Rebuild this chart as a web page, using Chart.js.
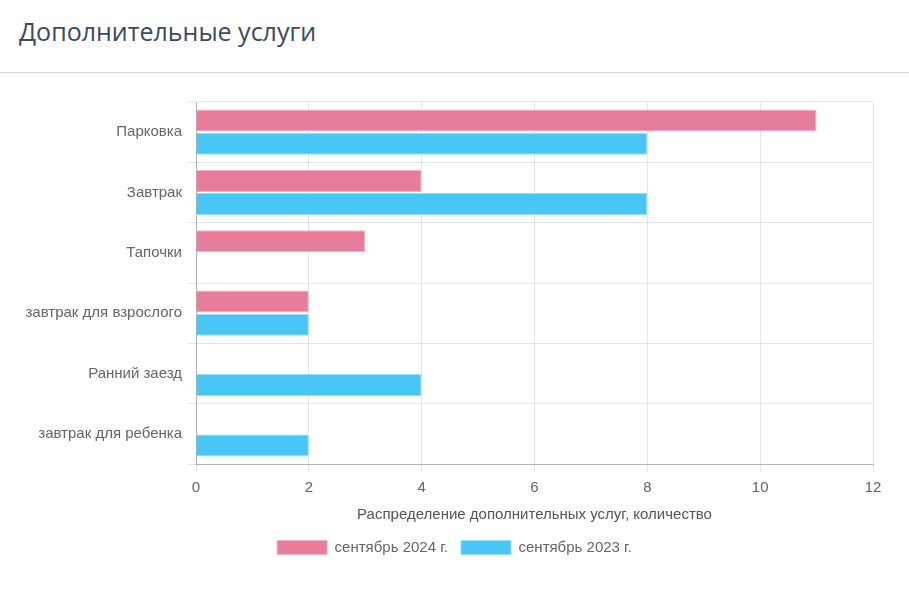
<!DOCTYPE html>
<html>
<head>
<meta charset="utf-8">
<script src="https://cdn.jsdelivr.net/npm/chart.js@4/dist/chart.umd.min.js"></script>
<style>
  html, body { margin: 0; padding: 0; background: #fff; }
  body { width: 909px; height: 589px; position: relative; overflow: hidden; }
  #title { position: absolute; left: 19px; top: 14px; font-family: "Open Sans", sans-serif; font-size: 25px; color: #3d4a5c; }
  #rule { position: absolute; left: 0; top: 72px; width: 909px; height: 0; border-top: 1px solid #cdd7e4; }
  #wrap { position: absolute; left: 0; top: 80px; width: 909px; height: 509px; }
</style>
</head>
<body>
<div id="title">Дополнительные услуги</div>
<div id="rule"></div>
<div id="wrap"><canvas id="c"></canvas></div>
<script>
const categories = ["Парковка", "Завтрак", "Тапочки", "завтрак для взрослого", "Ранний заезд", "завтрак для ребенка"];
const sep2024 = [11, 4, 3, 2, null, null];
const sep2023 = [8, 8, null, 2, 4, 2];
const seriesNames = ["сентябрь 2024 г.", "сентябрь 2023 г."];
const xTicks = [0, 2, 4, 6, 8, 10, 12];
const xTitle = "Распределение дополнительных услуг, количество";

const font = { family: "'Liberation Sans', Arial, sans-serif", size: 15 };
new Chart(document.getElementById('c'), {
  type: 'bar',
  data: {
    labels: categories,
    datasets: [
      { label: seriesNames[0], data: sep2024, backgroundColor: '#e77c9b', borderColor: '#f3b3c6', borderWidth: 1 },
      { label: seriesNames[1], data: sep2023, backgroundColor: '#48c7f6', borderColor: '#98defa', borderWidth: 1 }
    ]
  },
  options: {
    indexAxis: 'y',
    responsive: true,
    maintainAspectRatio: false,
    animation: false,
    categoryPercentage: 0.77,
    barPercentage: 0.95,
    layout: { padding: { top: 22, right: 0, left: 0, bottom: 24 } },
    plugins: {
      legend: {
        position: 'bottom',
        labels: { boxWidth: 50, boxHeight: 14, font: font, color: '#666', padding: 13 }
      },
      tooltip: { enabled: false }
    },
    scales: {
      x: {
        min: 0, max: 12,
        afterBuildTicks: s => { s.ticks = xTicks.map(v => ({ value: v })); },
        afterFit: s => { s.paddingRight = 36; },
        ticks: { font: font, color: '#666', padding: 7 },
        grid: { color: 'rgba(0,0,0,0.1)', tickLength: 8 },
        border: { color: 'rgba(0,0,0,0.22)' },
        title: { display: true, text: xTitle, font: font, color: '#555', padding: { top: 2, bottom: 3 } }
      },
      y: {
        afterFit: s => { s.width = 196; },
        ticks: { font: font, color: '#666', padding: 6 },
        grid: { color: 'rgba(0,0,0,0.1)', tickLength: 8, offset: true },
        border: { color: 'rgba(0,0,0,0.22)' }
      }
    }
  }
});
</script>
</body>
</html>
